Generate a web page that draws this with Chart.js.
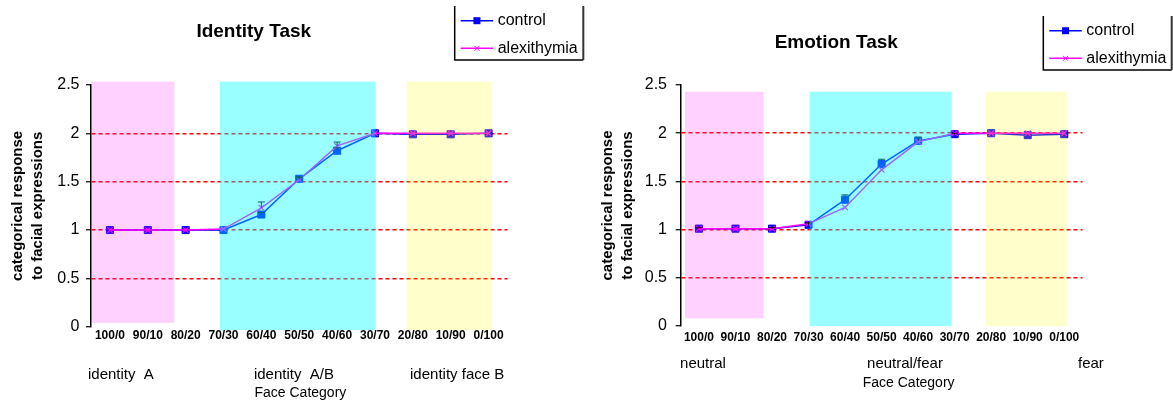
<!DOCTYPE html>
<html>
<head>
<meta charset="utf-8">
<title>Identity / Emotion Task</title>
<script src="https://cdn.jsdelivr.net/npm/chart.js@4.4.1/dist/chart.umd.min.js"></script>
<style>
    body { margin: 0; background: #fff; }
    #wrap { position: relative; width: 1173px; height: 404px; overflow: hidden; }
    #identity-chart { position: absolute; left: 0; top: 0; }
    #emotion-chart { position: absolute; left: 590px; top: 0; }
</style>
</head>
<body>
<div id="wrap">
    <canvas id="identity-chart" width="590" height="404"></canvas>
    <canvas id="emotion-chart" width="583" height="404"></canvas>
</div>
<script>
// Face morph categories (x axis)
const categories = ['100/0', '90/10', '80/20', '70/30', '60/40', '50/50', '40/60', '30/70', '20/80', '10/90', '0/100'];

// y axis
const yMin = 0;
const yMax = 2.5;
const yStep = 0.5;

// Identity task - mean categorical response
const identityControl = [1.00, 1.00, 1.00, 1.00, 1.16, 1.53, 1.82, 2.00, 1.99, 1.99, 2.00];
const identityAlexithymia = [1.00, 1.00, 1.00, 1.01, 1.23, 1.52, 1.87, 2.00, 2.00, 2.00, 2.00];
const identityControlErr = [0, 0, 0, 0, 0.02, 0.02, 0.03, 0, 0, 0, 0];
const identityAlexithymiaErr = [0, 0, 0, 0, 0.06, 0.02, 0.04, 0, 0, 0, 0];

// Emotion task - mean categorical response
const emotionControl = [1.01, 1.01, 1.01, 1.05, 1.31, 1.68, 1.92, 1.99, 2.00, 1.98, 1.99];
const emotionAlexithymia = [1.01, 1.01, 1.01, 1.06, 1.23, 1.62, 1.91, 2.00, 2.00, 2.00, 2.00];
const emotionControlErr = [0.01, 0, 0.01, 0.02, 0.05, 0.05, 0.04, 0.01, 0, 0, 0];
const emotionAlexithymiaErr = [0, 0, 0, 0, 0, 0, 0, 0, 0, 0, 0];

// Group labels under the axis
const identityGroups = ['identity  A', 'identity  A/B', 'identity face B'];
const emotionGroups = ['neutral', 'neutral/fear', 'fear'];

const seriesNames = ['control', 'alexithymia'];

Chart.defaults.font.family = '"Liberation Sans", Arial, sans-serif';
Chart.defaults.color = '#000';

// Extra drawing: error bars, shaded bands, group labels, boxed legend
const extrasPlugin = {
    id: 'extras',
    afterDatasetsDraw(chart, args, opts) {
        const ctx = chart.ctx;
        const xs = chart.scales.x;
        const ys = chart.scales.y;

        // error bars (upper half)
        ctx.save();
        ctx.strokeStyle = '#000';
        ctx.lineWidth = 1;
        chart.data.datasets.forEach(ds => {
            (ds.errors || []).forEach((e, i) => {
                if (!e) return;
                const px = xs.getPixelForValue(i);
                const y0 = ys.getPixelForValue(ds.data[i]);
                const y1 = ys.getPixelForValue(ds.data[i] + e);
                ctx.beginPath();
                ctx.moveTo(px, y0);
                ctx.lineTo(px, y1);
                ctx.moveTo(px - 3.5, y1);
                ctx.lineTo(px + 3.5, y1);
                ctx.stroke();
            });
        });
        ctx.restore();

        // translucent bands drawn over lines and axis
        ctx.save();
        opts.bands.forEach(b => {
            const x0 = xs.getPixelForValue(b.from);
            const x1 = xs.getPixelForValue(b.to);
            const y0 = ys.getPixelForValue(b.top);
            const y1 = ys.getPixelForValue(b.bottom);
            ctx.fillStyle = b.color;
            ctx.fillRect(x0, y0, x1 - x0, y1 - y0);
        });
        ctx.restore();
    },
    afterDraw(chart, args, opts) {
        const ctx = chart.ctx;
        const xs = chart.scales.x;

        // group labels and axis caption
        ctx.save();
        ctx.fillStyle = '#000';
        ctx.textAlign = 'center';
        ctx.textBaseline = 'middle';
        ctx.font = '15px "Liberation Sans", Arial, sans-serif';
        opts.groups.forEach((g, i) => {
            ctx.fillText(g, xs.getPixelForValue(opts.groupPos[i]), opts.groupY);
        });
        ctx.font = '14px "Liberation Sans", Arial, sans-serif';
        ctx.fillText('Face Category', xs.getPixelForValue(opts.captionPos), opts.captionY);
        ctx.restore();

        // legend box (no top edge, like the original)
        const L = opts.legend;
        ctx.save();
        ctx.strokeStyle = '#000';
        ctx.lineWidth = 1.5;
        ctx.beginPath();
        ctx.moveTo(L.x, L.y);
        ctx.lineTo(L.x, L.y + L.h);
        ctx.lineTo(L.x + L.w, L.y + L.h);
        ctx.stroke();
        ctx.strokeStyle = '#333';
        ctx.lineWidth = 2;
        ctx.beginPath();
        ctx.moveTo(L.x + L.w, L.y);
        ctx.lineTo(L.x + L.w, L.y + L.h);
        ctx.stroke();

        const rows = [L.y + 14.7, L.y + 42.3];
        const ordered = [chart.data.datasets[1], chart.data.datasets[0]];
        ordered.forEach((ds, i) => {
            const ry = rows[i];
            const lx0 = L.x + 6;
            const lx1 = L.x + 38.5;
            const mx = (lx0 + lx1) / 2;
            ctx.strokeStyle = ds.borderColor;
            ctx.lineWidth = 1.5;
            ctx.beginPath();
            ctx.moveTo(lx0, ry);
            ctx.lineTo(lx1, ry);
            ctx.stroke();
            if (ds.pointStyle === 'rect') {
                ctx.fillStyle = ds.pointBackgroundColor;
                ctx.fillRect(mx - 3.5, ry - 3.5, 7, 7);
            } else {
                ctx.lineWidth = 1;
                ctx.beginPath();
                ctx.moveTo(mx - 2.5, ry - 2.5);
                ctx.lineTo(mx + 2.5, ry + 2.5);
                ctx.moveTo(mx + 2.5, ry - 2.5);
                ctx.lineTo(mx - 2.5, ry + 2.5);
                ctx.stroke();
            }
            ctx.fillStyle = '#000';
            ctx.font = '16px "Liberation Sans", Arial, sans-serif';
            ctx.textAlign = 'left';
            ctx.textBaseline = 'middle';
            ctx.fillText(ds.label, L.x + 43, ry);
        });
        ctx.restore();
    }
};

// Build one task chart
function buildChart(canvasId, cfg) {
    const ctx = document.getElementById(canvasId).getContext('2d');
    return new Chart(ctx, {
        type: 'line',
        data: {
            labels: categories,
            datasets: [
                {
                    label: seriesNames[1],
                    data: cfg.alexithymia,
                    errors: cfg.alexithymiaErr,
                    borderColor: '#FF00FF',
                    backgroundColor: '#FF00FF',
                    pointBackgroundColor: '#FF00FF',
                    pointBorderColor: '#FF00FF',
                    pointStyle: 'crossRot',
                    pointRadius: 4,
                    pointBorderWidth: 1.2,
                    borderWidth: 1.5,
                    tension: 0,
                    fill: false,
                    order: 0
                },
                {
                    label: seriesNames[0],
                    data: cfg.control,
                    errors: cfg.controlErr,
                    borderColor: '#0000FF',
                    backgroundColor: '#0000FF',
                    pointBackgroundColor: '#0000FF',
                    pointBorderColor: '#0000FF',
                    pointStyle: 'rect',
                    pointRadius: 5,
                    pointBorderWidth: 1,
                    borderWidth: 1.5,
                    tension: 0,
                    fill: false,
                    order: 1
                }
            ]
        },
        options: {
            responsive: false,
            animation: false,
            events: [],
            layout: {
                padding: { top: 0, right: cfg.padRight, bottom: 0, left: 0 }
            },
            plugins: {
                legend: { display: false },
                tooltip: { enabled: false },
                title: {
                    display: true,
                    text: cfg.title,
                    color: '#000',
                    font: { size: 19, weight: 'bold', lineHeight: 1.2 },
                    padding: { top: cfg.titleTop, bottom: 85 - 22.8 - cfg.titleTop }
                },
                extras: cfg.extras
            },
            scales: {
                x: {
                    type: 'category',
                    offset: true,
                    grid: { display: false, drawTicks: false },
                    border: { display: false },
                    ticks: {
                        autoSkip: false,
                        maxRotation: 0,
                        minRotation: 0,
                        padding: cfg.xTickPad,
                        color: '#000',
                        font: { size: 12, weight: 'bold' }
                    },
                    afterFit: scale => { scale.height = cfg.xHeight; }
                },
                y: {
                    min: yMin,
                    max: yMax,
                    ticks: {
                        stepSize: yStep,
                        padding: cfg.yTickPad,
                        color: '#000',
                        font: { size: 16 },
                        callback: value => String(value)
                    },
                    grid: {
                        color: ['rgba(0,0,0,0)', '#FF0000', '#FF0000', '#FF0000', '#FF0000', 'rgba(0,0,0,0)'],
                        lineWidth: 1.5,
                        drawTicks: true,
                        tickLength: 5,
                        tickColor: '#000',
                        tickWidth: 1.2,
                        borderDash: [4, 3]
                    },
                    border: { display: true, color: '#000', width: 1.5, dash: [4, 3] },
                    title: {
                        display: true,
                        text: ['categorical response', 'to facial expressions'],
                        color: '#000',
                        font: { size: 15, weight: 'bold', lineHeight: 1.35 },
                        padding: { top: cfg.yTitlePad, bottom: 0 }
                    },
                    afterFit: scale => { scale.width = cfg.yWidth; }
                }
            }
        },
        plugins: [extrasPlugin]
    });
}

// Band colours (translucent, laid over the plot)
const pinkBand = 'rgba(255, 0, 255, 0.18)';
const cyanBand = 'rgba(0, 255, 255, 0.40)';
const yellowBand = 'rgba(255, 255, 0, 0.20)';

buildChart('identity-chart', {
    title: 'Identity Task',
    control: identityControl,
    alexithymia: identityAlexithymia,
    controlErr: identityControlErr,
    alexithymiaErr: identityAlexithymiaErr,
    padRight: 82.5,
    titleTop: 20.6,
    xHeight: 77.3,
    xTickPad: 2,
    yWidth: 91,
    yTickPad: 6.5,
    yTitlePad: 7.4,
    extras: {
        bands: [
            { from: -0.5, to: 1.70, bottom: 0.04, top: 2.535, color: pinkBand },
            { from: 2.90, to: 7.02, bottom: -0.035, top: 2.535, color: cyanBand },
            { from: 7.84, to: 10.08, bottom: -0.035, top: 2.535, color: yellowBand }
        ],
        groups: identityGroups,
        groupPos: [0.29, 4.86, 9.17],
        groupY: 375,
        captionPos: 5.03,
        captionY: 393.3,
        legend: { x: 454.7, y: 6, w: 128.6, h: 54 }
    }
});

buildChart('emotion-chart', {
    title: 'Emotion Task',
    control: emotionControl,
    alexithymia: emotionAlexithymia,
    controlErr: emotionControlErr,
    alexithymiaErr: emotionAlexithymiaErr,
    padRight: 90.5,
    titleTop: 31.3,
    xHeight: 78,
    xTickPad: 4.5,
    yWidth: 90.7,
    yTickPad: 8.7,
    yTitlePad: 7.9,
    extras: {
        bands: [
            { from: -0.38, to: 1.77, bottom: 0.08, top: 2.43, color: pinkBand },
            { from: 3.03, to: 6.92, bottom: 0, top: 2.43, color: cyanBand },
            { from: 7.85, to: 10.07, bottom: 0, top: 2.43, color: yellowBand }
        ],
        groups: emotionGroups,
        groupPos: [0.11, 5.64, 10.73],
        groupY: 364.3,
        captionPos: 5.74,
        captionY: 383.3,
        legend: { x: 453.3, y: 16, w: 128.4, h: 54 }
    }
});
</script>
</body>
</html>
